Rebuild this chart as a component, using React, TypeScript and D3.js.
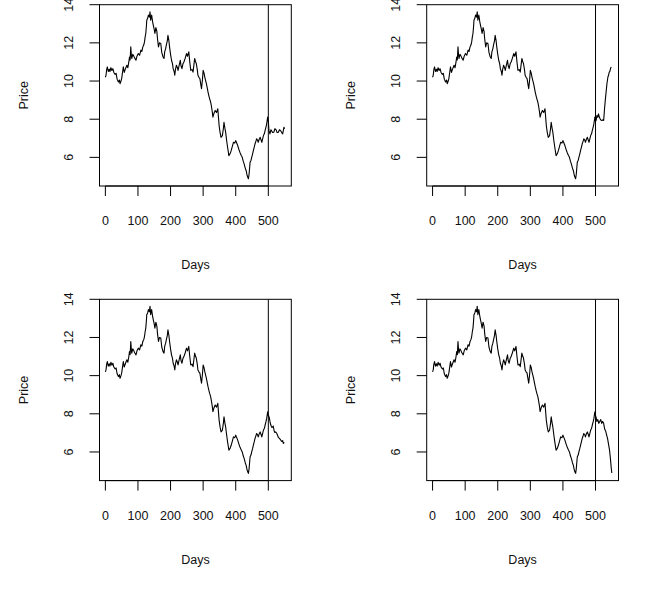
import React from "react";
import * as d3 from "d3";

const SHARED_PATH: [number, number][] = [
  [0, 10.2], [2, 10.3], [4, 10.6], [6, 10.74], [9, 10.5], [12, 10.62], [14, 10.5], [17, 10.7],
  [20, 10.55], [23, 10.65], [26, 10.45], [30, 10.35], [33, 10.4], [36, 10.1], [40, 9.95], [43, 10.05],
  [45, 9.86], [48, 10.0], [50, 10.13], [53, 10.5], [55, 10.74], [58, 10.45], [60, 10.56], [63, 10.7],
  [66, 10.83], [69, 10.7], [72, 11.0], [74, 11.26], [76, 11.1], [78, 11.79], [80, 11.3], [81, 11.18],
  [84, 11.4], [86, 11.35], [90, 11.2], [94, 11.09], [97, 11.3], [101, 11.44], [105, 11.35], [109, 11.62],
  [112, 11.55], [115, 11.79], [118, 11.9], [120, 12.05], [122, 12.3], [124, 12.49], [126, 12.9], [127, 13.19],
  [130, 13.3], [132, 13.46], [135, 13.35], [137, 13.63], [139, 13.19], [142, 13.46], [145, 13.1], [147, 12.93],
  [150, 12.7], [152, 12.49], [155, 12.8], [158, 12.6], [160, 12.2], [163, 11.79], [166, 12.0], [170, 11.97],
  [173, 11.5], [177, 11.26], [180, 11.18], [182, 11.53], [185, 11.7], [187, 11.88], [190, 12.1], [192, 12.4],
  [195, 12.1], [197, 11.79], [200, 11.4], [203, 11.09], [206, 10.9], [208, 10.65], [211, 10.5], [213, 10.3],
  [215, 10.6], [218, 10.83], [221, 10.7], [223, 10.56], [226, 10.8], [230, 11.09], [232, 10.8], [235, 10.65],
  [238, 10.9], [241, 11.0], [245, 11.2], [249, 11.44], [252, 11.3], [256, 11.53], [259, 11.0], [262, 10.56],
  [266, 10.6], [269, 10.47], [272, 10.9], [274, 11.18], [277, 11.0], [279, 10.92], [282, 10.6], [284, 10.3],
  [287, 10.2], [290, 10.13], [293, 9.8], [295, 9.6], [298, 10.1], [300, 10.56], [303, 10.4], [305, 10.21],
  [308, 10.0], [310, 9.86], [313, 9.6], [315, 9.42], [318, 9.2], [320, 9.07], [323, 8.9], [325, 8.72],
  [328, 8.4], [330, 8.11], [333, 8.3], [337, 8.46], [341, 8.35], [345, 8.55], [347, 8.1], [349, 7.67],
  [352, 7.3], [355, 7.05], [359, 7.14], [362, 7.5], [364, 7.84], [367, 7.5], [369, 7.32], [372, 6.9],
  [375, 6.53], [379, 6.09], [383, 6.2], [386, 6.35], [390, 6.6], [393, 6.79], [397, 6.75], [400, 6.88],
  [403, 6.75], [406, 6.62], [410, 6.4], [413, 6.26], [417, 6.1], [420, 6.0], [423, 5.8], [426, 5.65],
  [429, 5.45], [432, 5.3], [435, 5.05], [437, 4.95], [439, 4.88], [441, 5.13], [444, 5.74], [447, 5.85],
  [449, 6.0], [452, 6.2], [454, 6.35], [457, 6.55], [459, 6.7], [462, 6.85], [464, 6.97], [467, 6.9],
  [469, 6.79], [472, 6.95], [475, 7.05], [478, 6.9], [480, 6.79], [483, 7.0], [485, 7.14], [488, 7.25],
  [490, 7.4], [493, 7.6], [495, 7.76], [498, 8.11], [500, 7.9],
];

// four different continuations after day 500
const TAIL_TOP_LEFT: [number, number][] = [
  [502, 7.4], [505, 7.23], [508, 7.45], [510, 7.4], [513, 7.3], [517, 7.32], [520, 7.5], [524, 7.44],
  [527, 7.3], [531, 7.32], [534, 7.45], [538, 7.4], [541, 7.3], [544, 7.23], [546, 7.4], [548, 7.58], [550, 7.5],
];
const TAIL_TOP_RIGHT: [number, number][] = [
  [502, 7.95], [504, 8.19], [507, 8.1], [509, 8.28], [512, 8.1], [514, 8.02], [517, 7.95], [520, 7.93],
  [523, 7.98], [525, 7.93], [528, 8.63], [530, 9.0], [532, 9.34], [535, 9.86], [538, 10.21], [540, 10.3],
  [542, 10.47], [544, 10.5], [546, 10.65], [548, 10.74],
];
const TAIL_BOTTOM_LEFT: [number, number][] = [
  [501, 7.9], [503, 7.8], [505, 7.6], [507, 7.45], [509, 7.35], [511, 7.28], [515, 7.36], [518, 7.1],
  [520, 7.02], [523, 7.05], [526, 6.97], [531, 6.76], [536, 6.67], [541, 6.55], [544, 6.6], [546, 6.45], [549, 6.5],
];
const TAIL_BOTTOM_RIGHT: [number, number][] = [
  [502, 7.8], [504, 7.6], [507, 7.7], [510, 7.5], [513, 7.6], [516, 7.7], [519, 7.5], [522, 7.6],
  [525, 7.5], [528, 7.2], [531, 7.1], [534, 6.9], [537, 6.7], [540, 6.4], [543, 6.1], [546, 5.6],
  [548, 5.2], [550, 4.9],
];

const X_TICKS = [0, 100, 200, 300, 400, 500];
const Y_TICKS = [6, 8, 10, 12, 14];
const SPLIT_DAY = 500;

const BOX_W = 191.8;
const BOX_H = 181.3;
const FONT = "'Liberation Sans', Arial, Helvetica, sans-serif";

function Panel({ left, top, tail }: { left: number; top: number; tail: [number, number][] }) {
  const x = d3.scaleLinear().domain([-18, 570.5]).range([0, BOX_W]);
  const y = d3.scaleLinear().domain([4.5, 14]).range([BOX_H, 0]);
  const line = d3
    .line<[number, number]>()
    .x((d) => x(d[0]))
    .y((d) => y(d[1]));
  const path = line([...SHARED_PATH, ...tail]) || "";

  return (
    <g transform={`translate(${left},${top})`}>
      <path d={path} fill="none" stroke="#000" strokeWidth={1.1} strokeLinejoin="round" />
      <line x1={x(SPLIT_DAY)} x2={x(SPLIT_DAY)} y1={0} y2={BOX_H} stroke="#000" strokeWidth={1} />
      <rect x={0} y={0} width={BOX_W} height={BOX_H} fill="none" stroke="#000" strokeWidth={1} />

      {/* x axis */}
      <line x1={x(0)} x2={x(500)} y1={BOX_H} y2={BOX_H} stroke="#000" />
      {X_TICKS.map((t) => (
        <g key={t}>
          <line x1={x(t)} x2={x(t)} y1={BOX_H} y2={BOX_H + 10} stroke="#000" />
          <text x={x(t)} y={BOX_H + 35} textAnchor="middle" dominantBaseline="central" fontSize={12.5} fill="#111">
            {t}
          </text>
        </g>
      ))}
      <text x={BOX_W / 2} y={BOX_H + 79} textAnchor="middle" dominantBaseline="central" fontSize={12.5} fill="#111">
        Days
      </text>

      {/* y axis */}
      {Y_TICKS.map((t) => (
        <g key={t}>
          <line x1={-10} x2={0} y1={y(t)} y2={y(t)} stroke="#000" />
          <text
            transform={`translate(-30.5,${y(t)}) rotate(-90)`}
            textAnchor="middle"
            dominantBaseline="central"
            fontSize={12.5}
            fill="#111"
          >
            {t}
          </text>
        </g>
      ))}
      <text
        transform={`translate(-75.5,${BOX_H / 2}) rotate(-90)`}
        textAnchor="middle"
        dominantBaseline="central"
        fontSize={12.5}
        fill="#111"
      >
        Price
      </text>
    </g>
  );
}

export default function App() {
  const cols = [99.5, 426.7];
  const rows = [4.7, 299.3];
  return (
    <svg
      width={648}
      height={595}
      style={{ position: "absolute", left: 0, top: 0, background: "#fff", fontFamily: FONT }}
    >
      <Panel left={cols[0]} top={rows[0]} tail={TAIL_TOP_LEFT} />
      <Panel left={cols[1]} top={rows[0]} tail={TAIL_TOP_RIGHT} />
      <Panel left={cols[0]} top={rows[1]} tail={TAIL_BOTTOM_LEFT} />
      <Panel left={cols[1]} top={rows[1]} tail={TAIL_BOTTOM_RIGHT} />
    </svg>
  );
}
